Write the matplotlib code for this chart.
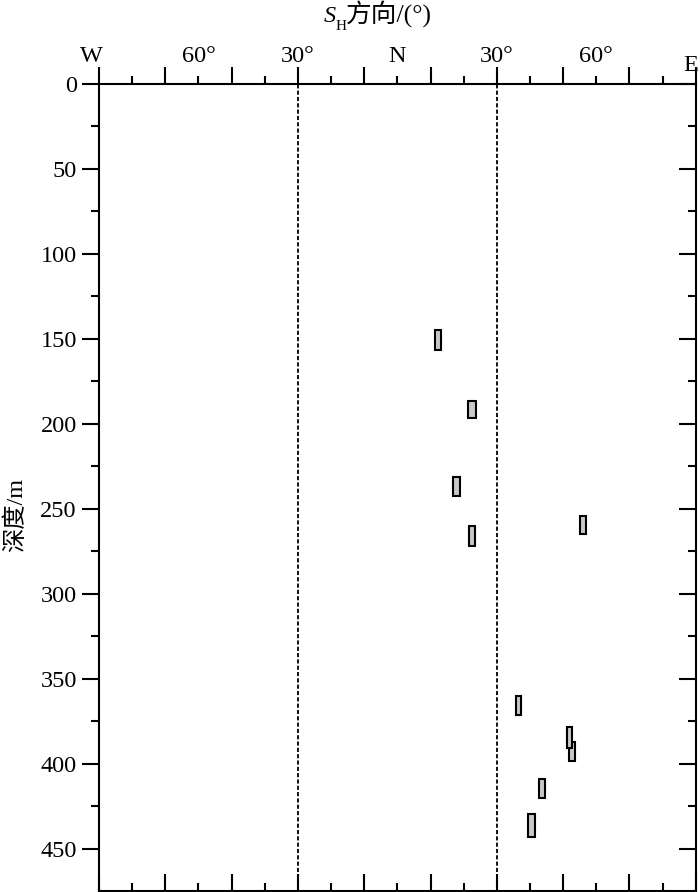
import matplotlib
matplotlib.use("Agg")
import matplotlib.pyplot as plt
from matplotlib.lines import TICKUP, TICKLEFT

# Azimuth of S_H (deg, east positive) and depth interval of each measurement
azimuth = [12.2, 22.4, 17.9, 56.1, 22.4, 36.6, 51.9, 52.7, 43.7, 40.4]
depth_top = [144.7, 186.9, 231.4, 254.0, 260.0, 360.0, 378.1, 386.9, 408.7, 429.6]
depth_bottom = [156.9, 196.6, 242.5, 264.9, 271.8, 371.0, 390.4, 398.2, 420.2, 442.9]
az_width = [1.7, 2.4, 2.0, 1.8, 1.8, 1.7, 1.7, 1.8, 1.7, 2.0]

# Top axis labels
dir_pos = [-90, -60, -30, 0, 30, 60]
dir_labels = ["W", "60°", "30°", "N", "30°", "60°"]
depth_ticks = [0, 50, 100, 150, 200, 250, 300, 350, 400, 450]

SERIF = ["Liberation Serif", "Noto Sans CJK SC"]
plt.rcParams["font.family"] = SERIF
FS = 17.5

W, H = 700, 892
fig = plt.figure(figsize=(W / 100, H / 100), dpi=100)
ax = fig.add_axes([99 / W, 1 - 890.7 / H, (695.7 - 99) / W, (890.7 - 83.5) / H])

# measurement boxes, deepest first so the shallower overlap sits on top
for i in reversed(range(len(azimuth))):
    ax.bar(azimuth[i], depth_bottom[i] - depth_top[i], bottom=depth_top[i],
           width=az_width[i], color="#c8c8c8", edgecolor="black",
           linewidth=1.5, zorder=3)

for xv in (-30, 30):
    ax.axvline(xv, color="black", linewidth=1.3, dashes=(2.3, 1.2), zorder=2)

ax.set_xlim(-90, 90)
ax.set_ylim(474.5, 0)

for s in ax.spines.values():
    s.set_linewidth(1.5)

# x ticks: every 10 deg, long/short alternating, up on top and bottom
ax.set_xticks(list(range(-90, 91, 20)))
ax.set_xticks(list(range(-80, 81, 20)), minor=True)
ax.tick_params(axis="x", which="both", top=True, bottom=True,
               labeltop=False, labelbottom=False, width=1.5)
ax.tick_params(axis="x", which="major", length=12)
ax.tick_params(axis="x", which="minor", length=6)
for t in ax.xaxis.get_major_ticks() + ax.xaxis.get_minor_ticks():
    t.tick1line.set_marker(TICKUP)
    t.tick2line.set_marker(TICKUP)

# y ticks: out on the left, in on the right
ax.set_yticks(depth_ticks)
ax.set_yticks(list(range(25, 475, 50)), minor=True)
ax.tick_params(axis="y", which="both", left=True, right=True, direction="out",
               width=1.5, labelsize=FS, pad=4)
ax.tick_params(axis="y", which="major", length=12)
ax.tick_params(axis="y", which="minor", length=6)
for t in ax.yaxis.get_major_ticks() + ax.yaxis.get_minor_ticks():
    t.tick2line.set_marker(TICKLEFT)

xt = ax.get_xaxis_transform()
for p, lab in zip(dir_pos, dir_labels):
    ax.text(p - (2.2 if lab == "W" else 0), 1.027, lab, transform=xt,
            ha="center", va="baseline", fontsize=FS, family=SERIF)
ax.text(88.5, 1.016, "E", transform=xt, ha="center", va="baseline",
        fontsize=FS, family=SERIF)

# title  S_H方向/(°)
fig.text(324 / W, 1 - 22 / H, "S", fontsize=FS, style="italic",
         family=SERIF, ha="left", va="baseline")
fig.text(335.5 / W, 1 - 30 / H, "H", fontsize=11, family=SERIF,
         ha="left", va="baseline")
fig.text(346 / W, 1 - 23 / H, "方向/(°)", fontsize=18.5, family=SERIF,
         ha="left", va="baseline")

fig.text(16 / W, 1 - 515 / H, "深度/m", fontsize=17.5, family=SERIF,
         rotation=90, ha="center", va="center")

fig.savefig("out.png", dpi=100)
